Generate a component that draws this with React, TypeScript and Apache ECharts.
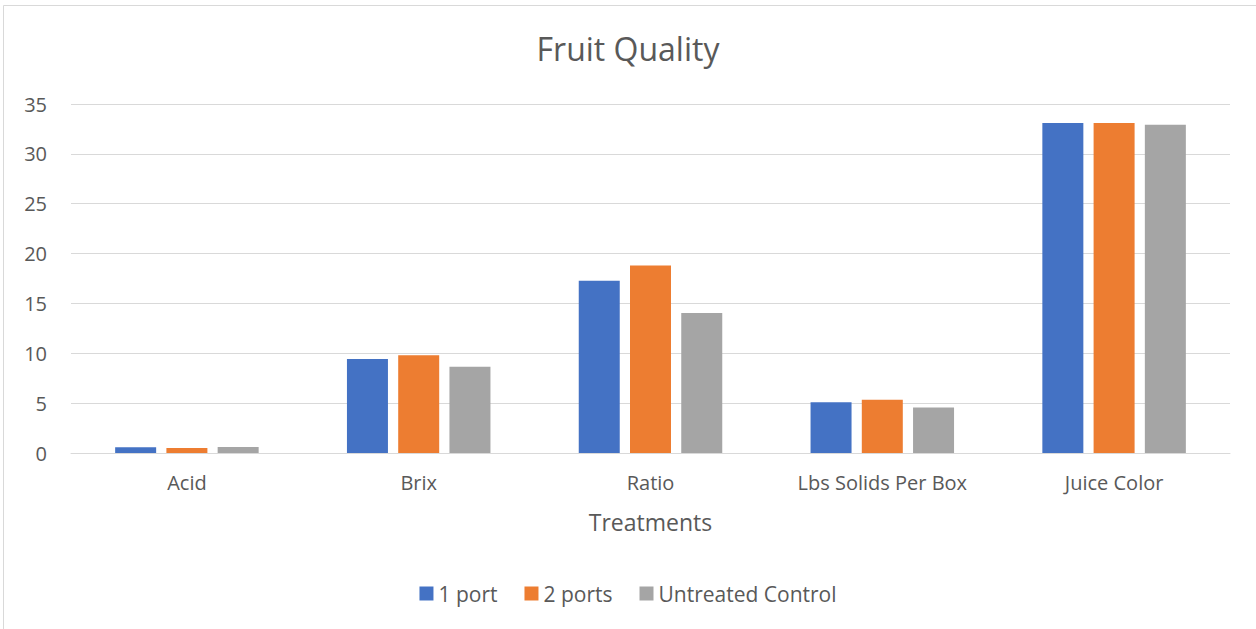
import React, { useEffect, useRef } from "react";
import * as echarts from "echarts";

const categories = ["Acid", "Brix", "Ratio", "Lbs Solids Per Box", "Juice Color"];
const onePort = [0.57, 9.43, 17.27, 5.1, 33.1];
const twoPorts = [0.5, 9.8, 18.8, 5.33, 33.1];
const control = [0.6, 8.66, 14.03, 4.57, 32.93];

const FONT = "'Open Sans', sans-serif";

export default function App() {
  const ref = useRef<HTMLDivElement>(null);
  useEffect(() => {
    const chart = echarts.init(ref.current!, null, { renderer: "svg" });
    chart.setOption({
      animation: false,
      textStyle: { fontFamily: FONT },
      title: {
        text: "Fruit Quality",
        left: "center",
        top: 27,
        textStyle: { fontSize: 32, fontWeight: "normal", color: "#595959", fontFamily: FONT },
      },
      graphic: [
        {
          type: "rect",
          shape: { x: 3.5, y: 5.5, width: 1300, height: 700 },
          style: { fill: "none", stroke: "#d9d9d9", lineWidth: 1 },
          silent: true,
        },
      ],
      legend: {
        top: 578,
        left: "center",
        itemWidth: 14,
        itemHeight: 14,
        itemGap: 27,
        icon: "rect",
        textStyle: { fontSize: 21, color: "#595959", fontFamily: FONT },
        data: ["1 port", "2 ports", "Untreated Control"],
      },
      grid: { left: 71, right: 26, top: 104, bottom: 176, containLabel: false },
      xAxis: {
        type: "category",
        data: categories,
        name: "Treatments",
        nameLocation: "middle",
        nameGap: 57,
        nameTextStyle: { fontSize: 23, color: "#595959", fontFamily: FONT },
        axisTick: { show: false },
        axisLine: { lineStyle: { color: "#d9d9d9", width: 1 } },
        axisLabel: { fontSize: 20, color: "#595959", margin: 19, fontFamily: FONT },
      },
      yAxis: {
        type: "value",
        min: 0,
        max: 35,
        interval: 5,
        axisLine: { show: false },
        axisTick: { show: false },
        splitLine: { lineStyle: { color: "#d9d9d9", width: 1 } },
        axisLabel: { fontSize: 20, color: "#595959", margin: 24, fontFamily: FONT },
      },
      series: [
        { name: "1 port", type: "bar", data: onePort, barWidth: 41, barGap: "25%", itemStyle: { color: "#4472c4" } },
        { name: "2 ports", type: "bar", data: twoPorts, barWidth: 41, barGap: "25%", itemStyle: { color: "#ed7d31" } },
        { name: "Untreated Control", type: "bar", data: control, barWidth: 41, barGap: "25%", itemStyle: { color: "#a5a5a5" } },
      ],
    });
    return () => chart.dispose();
  }, []);
  return (
    <div
      ref={ref}
      style={{ position: "absolute", left: 0, top: 0, width: 1256, height: 629, background: "#fff" }}
    />
  );
}
